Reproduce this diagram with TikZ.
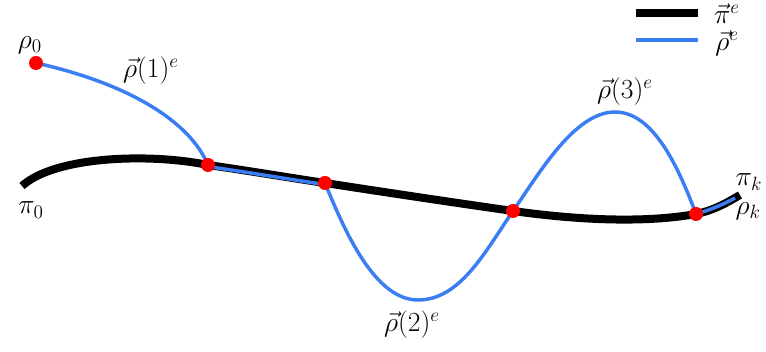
\documentclass[tikz,border=0pt]{standalone}
\usepackage{amsmath,amssymb}
\usetikzlibrary{positioning}
\definecolor{cRho}{HTML}{3B7DF2}
\definecolor{cDot}{HTML}{FF0000}

\begin{document}
\begin{tikzpicture}[x=0.75pt, y=0.75pt, font=\huge,
  piline/.style={line width=6pt, black},
  rholine/.style={line width=2.6pt, cRho},
  dot/.style={fill=cDot}]
  \useasboundingbox (0,0) rectangle (766,352);
  % path ends and turning points
  \coordinate (pi0) at (22,166);
  \coordinate (pik) at (740,157);
  \coordinate (rhok) at (735,154);
  \coordinate (lo) at (418,52);
  \coordinate (hi) at (615,240);
  \foreach \n/\x/\y in {r0/36/289, r1/208/187, r2/325/169, r3/513/141, r4/696/138}{
    \coordinate (\n) at (\x,\y);
  }
  % expert trajectory
  \draw[piline] (pi0) .. controls (55,196) and (150,199) .. (r1)
    .. controls (250,181) and (285,175) .. (r2)
    .. controls (390,159) and (450,150) .. (r3)
    .. controls (570,133) and (640,128) .. (r4)
    .. controls (715,142) and (728,150) .. (pik);
  % rollouts
  \draw[rholine] (r0) .. controls (130,268) and (190,230) .. (r1);
  \draw[rholine, transform canvas={yshift=-1.2pt}] (r1) .. controls (250,181) and (285,175) .. (r2);
  \draw[rholine] (r2) .. controls (345,120) and (375,52) .. (lo)
    .. controls (460,52) and (485,100) .. (r3)
    .. controls (540,180) and (575,240) .. (hi)
    .. controls (655,240) and (680,180) .. (r4)
    .. controls (713,143) and (724,148) .. (rhok);
  \foreach \n in {r0,r1,r2,r3,r4}{
    \fill[dot] (\n) circle (5.25pt);
  }
  % labels
  \node (lrho0) at (30,307) {$\rho_0$};
  \node (lrho1) at (151,281) {$\vec{\rho}(1)^e$};
  \node (lpi0) at (31,142) {$\pi_0$};
  \node (lrho2) at (412,27) {$\vec{\rho}(2)^e$};
  \node (lrho3) at (625,260) {$\vec{\rho}(3)^e$};
  \node[anchor=west] (lpik) at (731,170) {$\pi_k$};
  \node[anchor=west] (lrhok) at (731,141) {$\rho_k$};
  % legend
  \coordinate (lgpiA) at (636,339);
  \coordinate (lgpiB) at (698,339);
  \coordinate (lgrhoA) at (636,312);
  \coordinate (lgrhoB) at (698,312);
  \draw[piline] (lgpiA) -- (lgpiB);
  \draw[rholine] (lgrhoA) -- (lgrhoB);
  \node (lgpi) at (727,338) {$\vec{\pi}^e$};
  \node (lgrho) at (727,309) {$\vec{\rho}^e$};
\end{tikzpicture}
\end{document}
